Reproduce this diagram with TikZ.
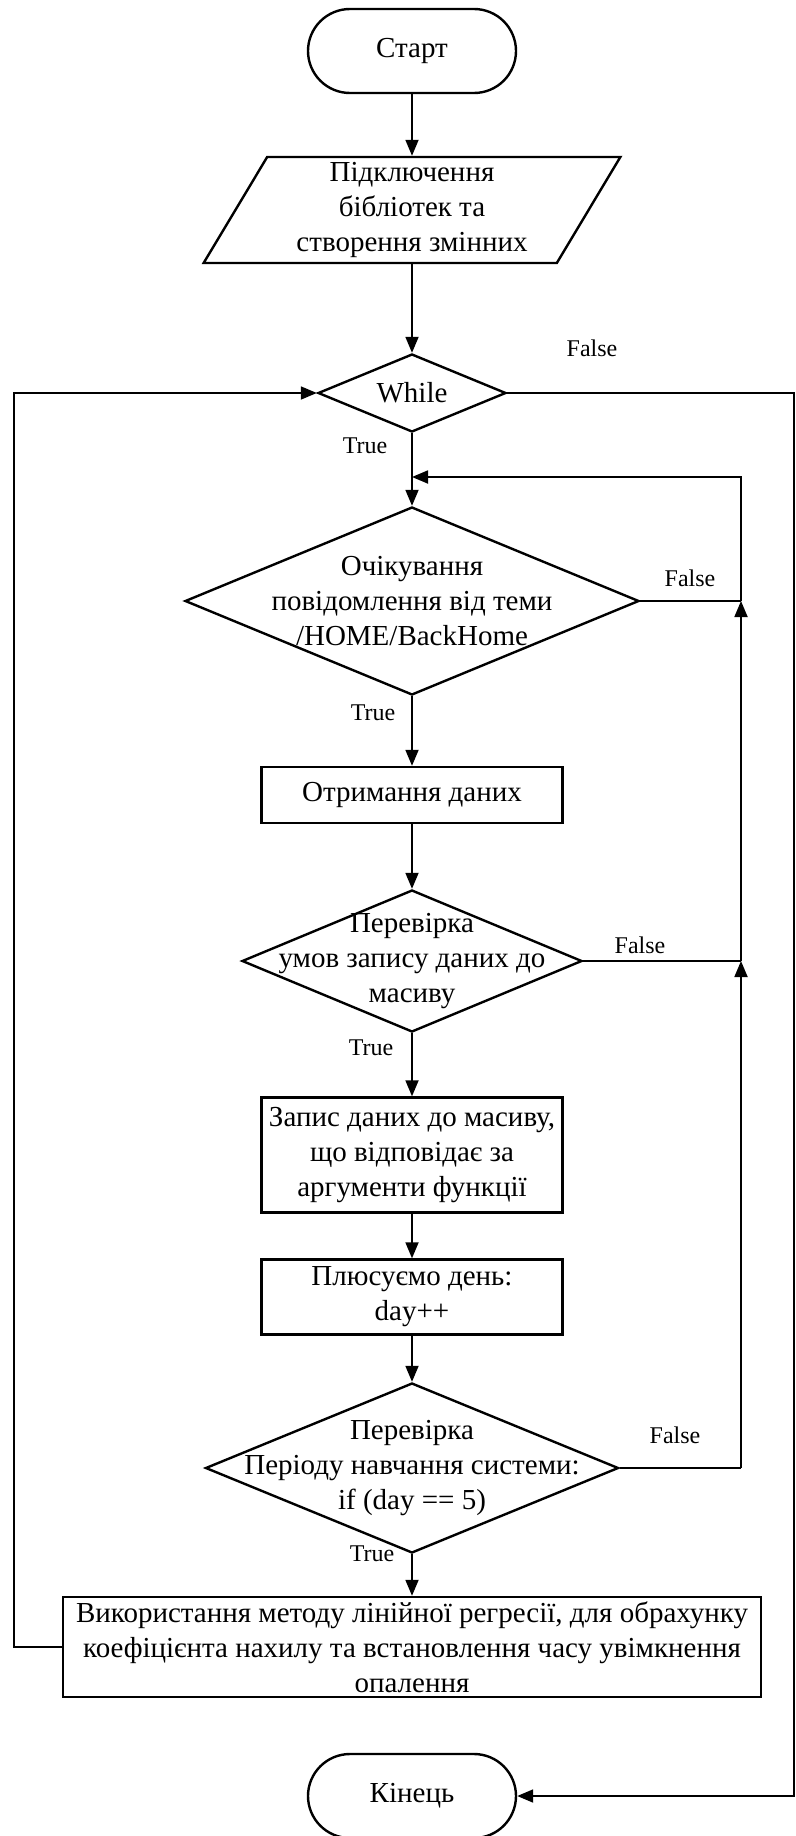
\documentclass[tikz,border=0pt]{standalone}
\usepackage{fontspec}
\setmainfont{Liberation Serif}
\usetikzlibrary{shapes.geometric,arrows.meta}

\begin{document}
\begin{tikzpicture}[x=1pt, y=-1pt,
    font=\fontsize{29}{35}\selectfont,
    term/.style={draw, line width=2.4pt, rectangle, rounded corners=42pt, minimum width=208pt, minimum height=84pt, inner sep=0pt},
    io/.style={draw, line width=2.4pt, trapezium, trapezium left angle=62, trapezium right angle=118, trapezium stretches=true, minimum width=417pt, minimum height=106pt, align=center, inner sep=0pt},
    proc/.style={draw, line width=2.4pt, rectangle, minimum width=301pt, align=center, inner sep=2pt},
    decision/.style={draw, line width=2.4pt, diamond, inner sep=0pt},
    txt/.style={align=center},
    yesno/.style={font=\fontsize{24}{28}\selectfont},
    wire/.style={line width=1.8pt},
    arr/.style={line width=1.8pt, -{Triangle[length=16pt, width=13pt]}}]
    \useasboundingbox (0,0) rectangle (795,1836);

    % Start and setup
    \node[term] (start) at (412,51) {Старт};
    \node[io] (input) at (412,210) {Підключення\\бібліотек та\\створення змінних};

    % Main loop
    \node[decision, minimum width=188pt, minimum height=78pt, label={[txt]center:While}] (while) at (412,393) {};
    \node[decision, minimum width=454pt, minimum height=188pt, label={[txt]center:{Очікування\\повідомлення від теми\\/HOME/BackHome}}] (wait) at (412,601) {};
    \node[proc, minimum height=56pt] (recv) at (412,795) {Отримання даних};
    \node[decision, minimum width=340pt, minimum height=142pt, label={[txt]center:{Перевірка\\умов запису даних до\\масиву}}] (check) at (412,961) {};
    \node[proc, minimum height=115pt] (write) at (412,1155) {Запис даних до масиву,\\що відповідає за\\аргументи функції};
    \node[proc, minimum height=75pt] (plus) at (412,1297) {Плюсуємо день:\\day++};
    \node[decision, minimum width=413pt, minimum height=170pt, label={[txt]center:{Перевірка\\Періоду навчання системи:\\if (day == 5)}}] (period) at (412,1468) {};
    \node[proc, minimum width=698pt, minimum height=100pt] (regress) at (412,1647) {Використання методу лінійної регресії, для обрахунку\\коефіцієнта нахилу та встановлення часу увімкнення\\опалення};

    % End
    \node[term] (end) at (412,1796) {Кінець};

    % Branch labels
    \node[yesno] (f1) at (592,348) {False};
    \node[yesno] (t1) at (365,446) {True};
    \node[yesno] (f2) at (690,578) {False};
    \node[yesno] (t2) at (373,713) {True};
    \node[yesno] (f3) at (640,945) {False};
    \node[yesno] (t3) at (371,1048) {True};
    \node[yesno] (f4) at (675,1435) {False};
    \node[yesno] (t4) at (372,1554) {True};

    % Corner points of the loops
    \coordinate (j1) at (741,477);
    \coordinate (j2) at (741,601);
    \coordinate (j3) at (741,961);
    \coordinate (j4) at (741,1468);
    \coordinate (m1) at (412,477);
    \coordinate (l1) at (14,1647);
    \coordinate (l2) at (14,393);
    \coordinate (r1) at (794,393);
    \coordinate (r2) at (794,1796);

    % Main flow
    \draw[arr] (start) -- (input);
    \draw[arr] (input) -- (while);
    \draw[arr] (while) -- (wait);
    \draw[arr] (wait) -- (recv);
    \draw[arr] (recv) -- (check);
    \draw[arr] (check) -- (write);
    \draw[arr] (write) -- (plus);
    \draw[arr] (plus) -- (period);
    \draw[arr] (period) -- (regress);

    % False branches back to the wait
    \draw[wire] (period.east) -- (j4);
    \draw[arr] (j4) -- (j3);
    \draw[wire] (check.east) -- (j3);
    \draw[arr] (j3) -- (j2);
    \draw[wire] (wait.east) -- (j2);
    \draw[arr] (j2) -- (j1) -- (m1);

    % Outer loop and exit
    \draw[arr] (regress.west) -- (l1) -- (l2) -- (while.west);
    \draw[arr] (while.east) -- (r1) -- (r2) -- (end.east);
\end{tikzpicture}
\end{document}
